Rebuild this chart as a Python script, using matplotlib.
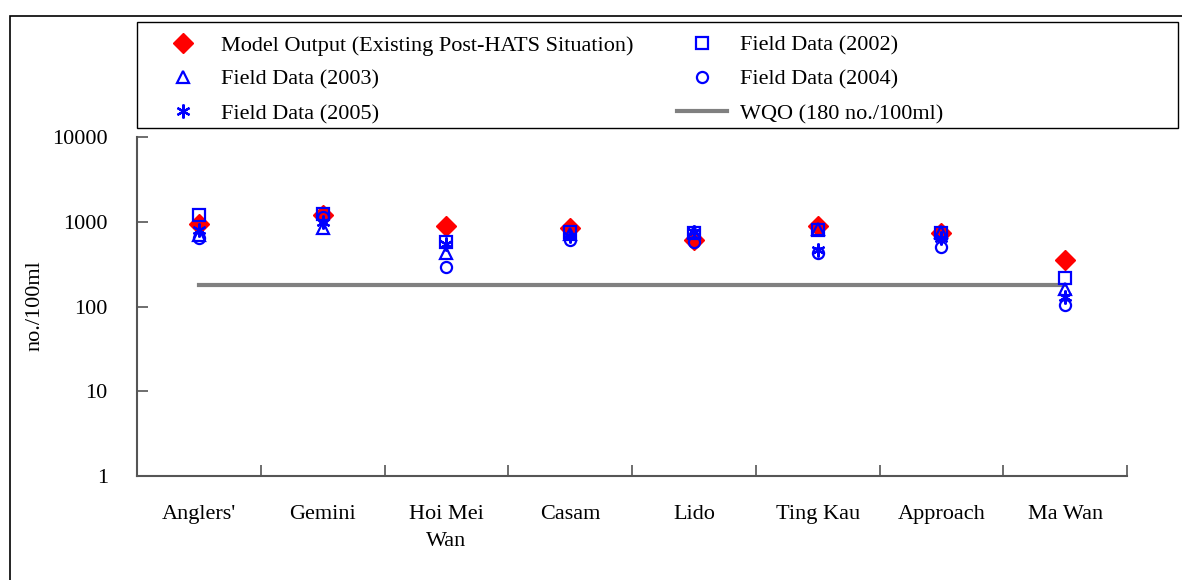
import matplotlib
matplotlib.use("Agg")
import matplotlib.pyplot as plt
from matplotlib.patches import Rectangle
from matplotlib.ticker import FixedLocator, FixedFormatter, NullLocator

plt.rcParams["font.family"] = ["Liberation Serif", "DejaVu Serif"]

# stations along the x axis
stations = ["Anglers'", "Gemini", "Hoi Mei\nWan", "Casam", "Lido", "Ting Kau", "Approach", "Ma Wan"]

# E. coli, no./100ml
model_output = [950, 1200, 900, 850, 610, 900, 740, 355]
field_2002 = [1200, 1230, 580, 760, 740, 800, 730, 215]
field_2003 = [700, 850, 430, 720, 760, 830, 760, 160]
field_2004 = [650, 1150, 295, 615, 580, 430, 510, 105]
field_2005 = [800, 1000, 540, 670, 750, 470, 650, 130]
wqo = 180

fig = plt.figure(figsize=(11.82, 5.80), dpi=100)
W, H = 1182, 580
ax = fig.add_axes([137 / W, 1 - 476 / H, (1127 - 137) / W, (476 - 137) / H])

x = [i + 0.5 for i in range(len(stations))]
blue = "#0000ff"

h_model, = ax.plot(x, model_output, ls="none", marker="D", ms=10, color="#ff0000", mec="#ff0000", zorder=3)
h_wqo, = ax.plot(x, [wqo] * len(x), color="#808080", lw=3, zorder=2)
h02, = ax.plot(x, field_2002, ls="none", marker="s", ms=8, mfc="none", mec=blue, mew=1.6, zorder=4)
h03, = ax.plot(x, field_2003, ls="none", marker="^", ms=9, mfc="none", mec=blue, mew=1.6, zorder=4)
h04, = ax.plot(x, field_2004, ls="none", marker="o", ms=8, mfc="none", mec=blue, mew=1.6, zorder=4)
h05, = ax.plot(x, field_2005, ls="none", marker=(6, 2, 0), ms=10, color=blue, mew=1.6, zorder=4)

ax.set_yscale("log")
ax.set_ylim(1, 10000)
ax.yaxis.set_major_locator(FixedLocator([1, 10, 100, 1000, 10000]))
ax.yaxis.set_major_formatter(FixedFormatter(["1", "10", "100", "1000", "10000"]))
ax.yaxis.set_minor_locator(NullLocator())

ax.set_xlim(0, len(stations))
ax.set_xticks(range(len(stations) + 1))
ax.set_xticklabels([])
ax.set_xticks(x, minor=True)
ax.set_xticklabels(stations, minor=True, fontsize=16, linespacing=1.55, va="top")

spine_col = "#555555"
for s in ["top", "right"]:
    ax.spines[s].set_visible(False)
for s in ["left", "bottom"]:
    ax.spines[s].set_color(spine_col)
    ax.spines[s].set_linewidth(1.5)
ax.tick_params(axis="y", direction="in", length=8, width=1.2, color=spine_col, labelsize=16, pad=21)
ax.tick_params(axis="x", which="major", direction="in", length=8, width=1.2, color=spine_col)
ax.tick_params(axis="x", which="minor", length=0, pad=21)
fig.text(35 / W, 1 - 306 / H, "no./100ml", rotation=90, fontsize=16, ha="center", va="center")

handles = [h_model, h03, h05, h02, h04, h_wqo]
labels = ["Model Output (Existing Post-HATS Situation)", "Field Data (2003)", "Field Data (2005)",
          "Field Data (2002)", "Field Data (2004)", "WQO (180 no./100ml)"]
leg = fig.legend(handles, labels, ncol=2, loc="upper left",
                 bbox_to_anchor=(158 / W, 1 - 35 / H),
                 fontsize=16, frameon=False, borderaxespad=0, borderpad=0,
                 handlelength=2.25, handletextpad=0.6, labelspacing=0.62, columnspacing=1.95)

# legend frame and outer frame
fig.patches.append(Rectangle((137 / W, 1 - 128 / H), (1178 - 137) / W, 106 / H, transform=fig.transFigure,
                             fill=False, edgecolor="black", lw=1))
fig.patches.append(Rectangle((10 / W, -0.05), 1.1, 1.05 - 16 / H, transform=fig.transFigure,
                             fill=False, edgecolor="black", lw=1.2))

fig.savefig("out.png", dpi=100)
